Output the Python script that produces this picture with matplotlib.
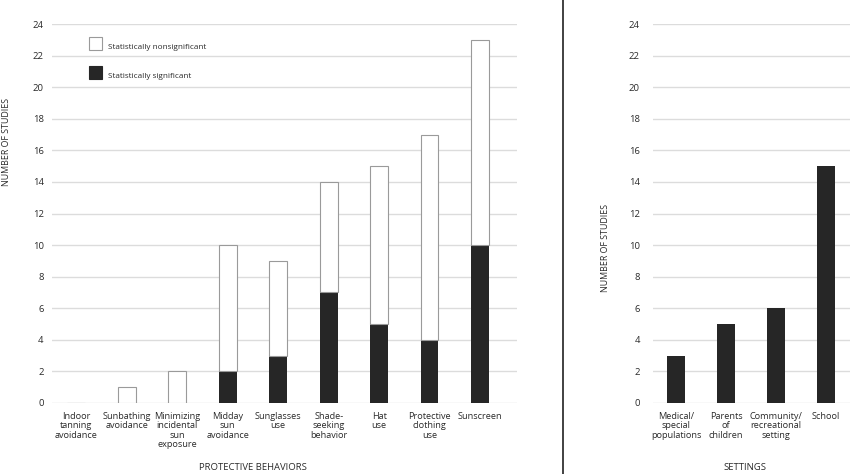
import matplotlib
matplotlib.use('Agg')
import matplotlib.pyplot as plt
from matplotlib.patches import Rectangle
from matplotlib.lines import Line2D

plt.rcParams['font.family'] = ['Open Sans', 'DejaVu Sans']

# data
behaviors = ['Indoor\ntanning\navoidance', 'Sunbathing\navoidance', 'Minimizing\nincidental\nsun\nexposure',
             'Midday\nsun\navoidance', 'Sunglasses\nuse', 'Shade-\nseeking\nbehavior', 'Hat\nuse',
             'Protective\nclothing\nuse', 'Sunscreen']
significant = [0, 0, 0, 2, 3, 7, 5, 4, 10]
total = [0, 1, 2, 10, 9, 14, 15, 17, 23]
nonsignificant = [t - s for t, s in zip(total, significant)]

settings = ['Medical/\nspecial\npopulations', 'Parents\nof\nchildren', 'Community/\nrecreational\nsetting', 'School']
settings_n = [3, 5, 6, 15]

dark = '#262626'
edge = '#9a9a9a'
grid = '#dcdcdc'
txt = '#2a2a2a'

fig = plt.figure(figsize=(8.5, 4.74), dpi=100)
W, H = 850, 474

def make_ax(x0, x1, y0=24, y1=403):
    return fig.add_axes([x0 / W, 1 - y1 / H, (x1 - x0) / W, (y1 - y0) / H])

def style(ax, ypad):
    ax.set_ylim(0, 24)
    ax.set_yticks(range(0, 25, 2))
    for y in range(0, 25, 2):
        ax.axhline(y, color=grid, lw=1.0, zorder=0)
    for s in ax.spines.values():
        s.set_visible(False)
    ax.tick_params(axis='y', length=0, labelsize=6.8, colors=txt, pad=ypad)
    ax.tick_params(axis='x', length=0, pad=6.5, labelsize=6.6, colors=txt)

# left panel
ax1 = make_ax(52, 517)
x = range(len(behaviors))
ax1.bar(x, significant, width=0.35, color=dark, zorder=2)
ax1.bar(x, nonsignificant, width=0.35, bottom=significant, color='white', edgecolor=edge, lw=0.8, zorder=2)
style(ax1, 6)
ax1.set_xlim(-0.48, 8.73)
ax1.set_xticks(list(x))
ax1.set_xticklabels(behaviors, linespacing=1.05, va='top')

# legend
ax1.add_patch(Rectangle((0.245, 22.35), 0.27, 0.85, facecolor='white', edgecolor=edge, lw=0.8, zorder=3, clip_on=False))
ax1.add_patch(Rectangle((0.245, 20.5), 0.27, 0.85, facecolor=dark, edgecolor=dark, lw=0.8, zorder=3, clip_on=False))
ax1.text(0.63, 22.5, 'Statistically nonsignificant', fontsize=5.9, color=txt, va='center')
ax1.text(0.63, 20.7, 'Statistically significant', fontsize=5.9, color=txt, va='center')

# right panel
ax2 = make_ax(653, 850)
x2 = range(len(settings))
ax2.bar(x2, settings_n, width=0.35, color=dark, zorder=2)
style(ax2, 9.5)
ax2.set_xlim(-0.46, 3.48)
ax2.set_xticks(list(x2))
ax2.set_xticklabels(settings, linespacing=1.05, va='top')

# labels
fig.text(7 / W, 1 - 142 / H, 'NUMBER OF STUDIES', rotation=90, fontsize=6.4, color=txt, ha='center', va='center')
fig.text(605 / W, 1 - 248 / H, 'NUMBER OF STUDIES', rotation=90, fontsize=6.4, color=txt, ha='center', va='center')
fig.text(253 / W, 1 - 467 / H, 'PROTECTIVE BEHAVIORS', fontsize=6.8, color=txt, ha='center', va='center')
fig.text(745 / W, 1 - 467 / H, 'SETTINGS', fontsize=6.8, color=txt, ha='center', va='center')

# divider
fig.add_artist(Line2D([563 / W, 563 / W], [0, 1], color='#333333', lw=1.3))

fig.savefig('out.png', dpi=100)
